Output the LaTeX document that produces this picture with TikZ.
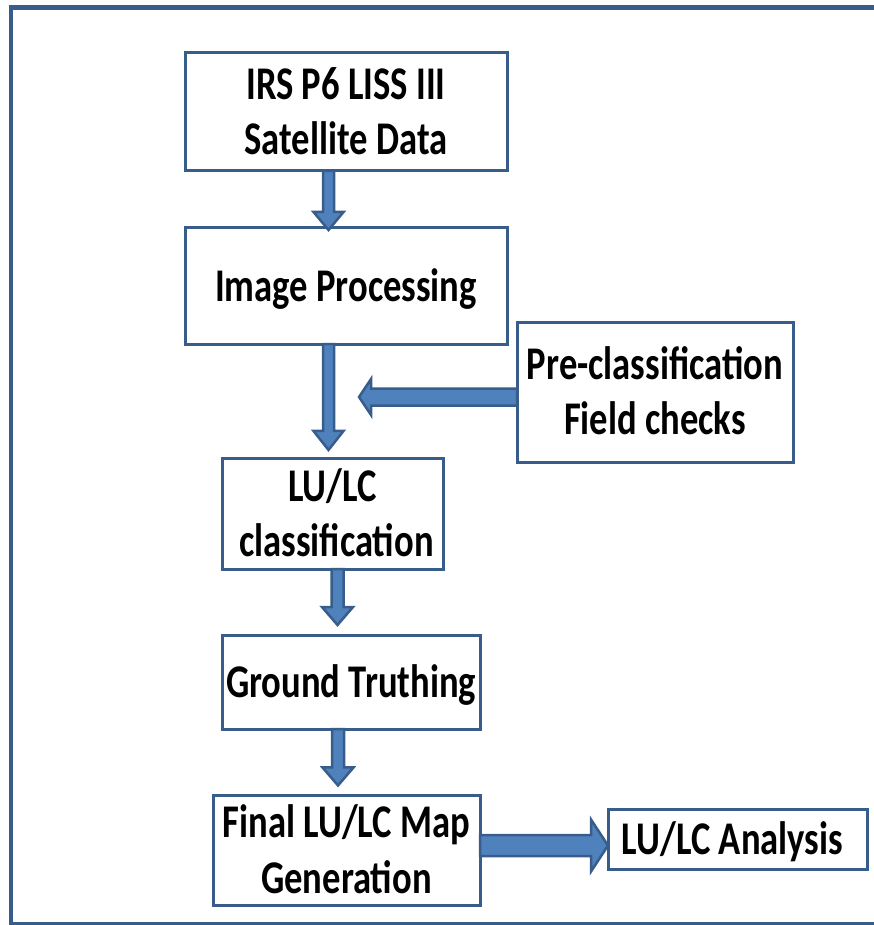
\documentclass[tikz,border=0pt]{standalone}
\usepackage{fontspec}
\setmainfont{Carlito}
\usepackage{graphicx}
\usetikzlibrary{calc}
\definecolor{lineblue}{RGB}{56,93,138}
\definecolor{fillblue}{RGB}{79,129,189}
\newcommand\lbl[1]{\raisebox{-4pt}[\height][\depth]{\scalebox{1}[1.28]{\begin{tabular}{@{}c@{}}#1\end{tabular}}}}
\newcommand\blockarrow[5]{%
  \filldraw[barrow] let \p1=(#1), \p2=(#2),
    \n1={veclen(\x2-\x1,\y2-\y1)}, \n2={atan2(\y2-\y1,\x2-\x1)} in
    {[shift={(\p1)}, rotate=\n2]
    (0pt,-#3) -- (\n1-#5,-#3) -- (\n1-#5,-#4) -- (\n1,0pt) -- (\n1-#5,#4) -- (\n1-#5,#3) -- (0pt,#3) -- cycle};
}
\tikzset{
  box/.style={draw=lineblue, line width=3pt, fill=white, rectangle, outer sep=0pt, inner sep=0pt,
    font=\bfseries\fontsize{36.6}{43}\selectfont, align=center},
  barrow/.style={fill=fillblue, draw=lineblue, line width=2.5pt, line join=miter},
  frameline/.style={draw=lineblue}
}
\begin{document}
\begin{tikzpicture}[x=1pt, y=-1pt]
\useasboundingbox (0,0) rectangle (874,925);
\clip (0,0) rectangle (874,925);
% outer frame
\draw[frameline, line width=4.5pt] (880,7.5) -- (11,7.5);
\draw[frameline, line width=4pt] (11,5.5) -- (11,925);
\draw[frameline, line width=3pt] (9,923.5) -- (880,923.5);
% boxes
\node[box, minimum width=322pt, minimum height=118pt] (b1) at (346,112) {\lbl{IRS P6 LISS III\\Satellite Data}};
\node[box, minimum width=322pt, minimum height=116pt] (b2) at (346,286) {\lbl{Image Processing}};
\node[box, minimum width=276pt, minimum height=140pt] (pre) at (655,392) {\lbl{Pre-classification\\Field checks}};
\node[box, minimum width=221pt, minimum height=106pt] (b3) at (332.5,514) {\lbl{LU/LC\\\hspace*{8pt}classification}};
\node[box, minimum width=258pt, minimum height=94pt] (b4) at (351,682) {\lbl{Ground Truthing}};
\node[box, minimum width=267pt, minimum height=105pt] (b5) at (346.5,850.5) {\lbl{Final LU/LC Map\\Generation}};
\node[box, minimum width=259pt, minimum height=60pt] (b6) at (737.5,839) {\lbl{LU/LC Analysis\hspace*{10pt}}};
% connector end points
\coordinate (a1s) at ($(b1.south)+(-17.5,0)$);
\coordinate (a1e) at ($(b2.north)+(-17.5,2)$);
\coordinate (a2s) at ($(b2.south)+(-17.5,0)$);
\coordinate (a2e) at ($(b3.north)+(-4,-9)$);
\coordinate (hs) at ($(pre.west)+(0,5)$);
\coordinate (he) at ($(pre.west)+(-158,5)$);
\coordinate (a3s) at ($(b3.south)+(5,0)$);
\coordinate (a3e) at ($(b4.north)+(-13.5,-10)$);
\coordinate (a4s) at ($(b4.south)+(-13,0)$);
\coordinate (a4e) at ($(b5.north)+(-8.5,-10)$);
\coordinate (a5s) at ($(b5.east)+(0,-5)$);
\coordinate (a5e) at ($(b6.west)+(0,6.5)$);
% block arrows
\blockarrow{a1s}{a1e}{5.5pt}{15pt}{18pt}
\blockarrow{a2s}{a2e}{5.5pt}{15pt}{19pt}
\blockarrow{hs}{he}{8.5pt}{18pt}{12pt}
\blockarrow{a3s}{a3e}{6pt}{15.5pt}{18pt}
\blockarrow{a4s}{a4e}{6pt}{15.5pt}{18pt}
\blockarrow{a5s}{a5e}{10.5pt}{26pt}{17pt}
\end{tikzpicture}
\end{document}
